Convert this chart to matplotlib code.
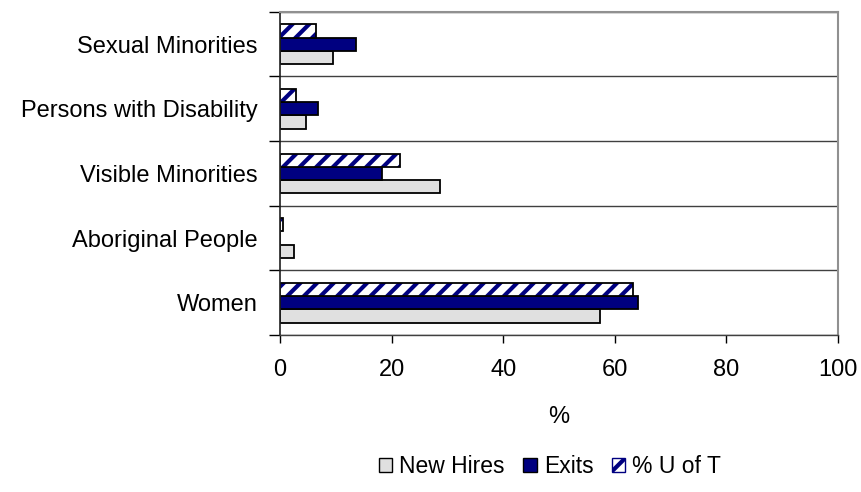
import matplotlib
matplotlib.use("Agg")
import matplotlib.pyplot as plt
import numpy as np
from matplotlib.patches import Patch

plt.rcParams['font.family'] = ['Liberation Sans', 'DejaVu Sans']
plt.rcParams['hatch.linewidth'] = 3.0

categories = ["Women", "Aboriginal People", "Visible Minorities",
              "Persons with Disability", "Sexual Minorities"]
new_hires = [57.4, 2.5, 28.7, 4.6, 9.5]
exits = [64.2, 0.0, 18.3, 6.8, 13.6]
uoft = [63.3, 0.6, 21.5, 2.9, 6.5]
xticks = [0, 20, 40, 60, 80, 100]

navy = "#000080"
grey = "#e0e0e0"
fs = 17

fig = plt.figure(figsize=(8.62, 4.92), dpi=100)
ax = fig.add_axes([0.325, 0.319, 0.647, 0.657])

y = np.arange(len(categories))
h = 0.205
ax.barh(y - h, new_hires, h, color=grey, edgecolor="black", linewidth=1.3)
ax.barh(y, exits, h, color=navy, edgecolor="black", linewidth=1.3)
# hatched bars: navy stripes, then a black outline on top
ax.barh(y + h, uoft, h, color="white", edgecolor=navy, hatch="//", linewidth=0)
ax.barh(y + h, uoft, h, fill=False, edgecolor="black", linewidth=1.3)

ax.set_xlim(0, 100)
ax.set_ylim(-0.5, len(categories) - 0.5)
ax.set_xticks(xticks)
ax.set_xticklabels([str(t) for t in xticks], fontsize=fs)
ax.set_yticks(y)
ax.set_yticklabels(categories, fontsize=fs)
ax.tick_params(axis='y', length=0, pad=16)
ax.tick_params(axis='x', length=6, width=1, pad=11, direction='out')
ax.set_yticks(np.arange(len(categories) + 1) - 0.5, minor=True)
ax.tick_params(axis='y', which='minor', length=8, width=1)
ax.yaxis.grid(True, which='minor', color="#404040", linewidth=1)
ax.set_axisbelow(True)

ax.set_xlabel("%", fontsize=fs, labelpad=18)

for s in ["top", "right"]:
    ax.spines[s].set_color("#909090")
    ax.spines[s].set_linewidth(1.5)
ax.spines["bottom"].set_color("#404040")
ax.spines["bottom"].set_linewidth(1)
ax.spines["left"].set_color("#202020")
ax.spines["left"].set_linewidth(1.2)

handles = [Patch(facecolor=grey, edgecolor="black", label="New Hires"),
           Patch(facecolor=navy, edgecolor="black", label="Exits"),
           Patch(facecolor="white", edgecolor=navy, hatch="//", label="% U of T")]
fig.legend(handles=handles, loc="center", bbox_to_anchor=(0.638, 0.052), ncol=3,
           frameon=False, fontsize=16.5, handlelength=0.6, handleheight=0.6,
           handletextpad=0.3, columnspacing=0.8)

fig.savefig("out.png", dpi=100)
